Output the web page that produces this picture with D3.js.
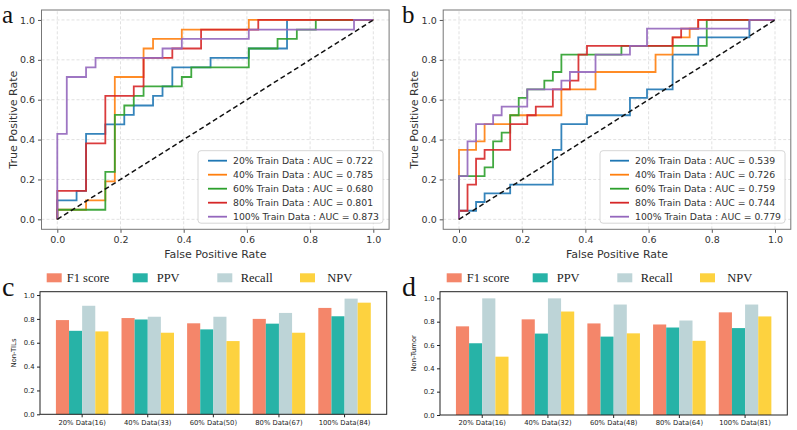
<!DOCTYPE html>
<html>
<head>
<meta charset="utf-8">
<script src="https://cdn.jsdelivr.net/npm/d3@7"></script>
<style>
  body { margin: 0; background: #fff; }
  svg { display: block; }
</style>
</head>
<body>
<script>
// ROC curves, panel a (corner points [fpr, tpr])
const rocA20 = [[0,0],[0,0.095],[0.061,0.095],[0.061,0.143],[0.091,0.143],[0.091,0.429],[0.152,0.429],[0.152,0.476],[0.212,0.476],[0.212,0.524],[0.242,0.524],[0.242,0.571],[0.303,0.571],[0.303,0.619],[0.333,0.619],[0.333,0.667],[0.364,0.667],[0.364,0.762],[0.485,0.762],[0.485,0.81],[0.606,0.81],[0.606,0.857],[0.727,0.857],[0.727,1],[1,1]];
const rocA40 = [[0,0],[0,0.048],[0.091,0.048],[0.091,0.095],[0.152,0.095],[0.152,0.19],[0.182,0.19],[0.182,0.714],[0.273,0.714],[0.273,0.857],[0.303,0.857],[0.303,0.905],[0.394,0.905],[0.394,0.952],[0.606,0.952],[0.606,1],[1,1]];
const rocA60 = [[0,0],[0,0.048],[0.152,0.048],[0.152,0.238],[0.182,0.238],[0.182,0.524],[0.212,0.524],[0.212,0.571],[0.242,0.571],[0.242,0.619],[0.273,0.619],[0.273,0.667],[0.394,0.667],[0.394,0.714],[0.424,0.714],[0.424,0.762],[0.606,0.762],[0.606,0.857],[0.697,0.857],[0.697,0.905],[0.758,0.905],[0.758,0.952],[0.818,0.952],[0.818,1],[1,1]];
const rocA80 = [[0,0],[0,0.143],[0.091,0.143],[0.091,0.381],[0.152,0.381],[0.152,0.619],[0.242,0.619],[0.242,0.667],[0.273,0.667],[0.273,0.81],[0.364,0.81],[0.364,0.857],[0.455,0.857],[0.455,0.952],[0.636,0.952],[0.636,1],[1,1]];
const rocA100 = [[0,0],[0,0.429],[0.03,0.429],[0.03,0.714],[0.091,0.714],[0.091,0.762],[0.121,0.762],[0.121,0.81],[0.333,0.81],[0.333,0.857],[0.394,0.857],[0.394,0.905],[0.606,0.905],[0.606,0.952],[0.939,0.952],[0.939,1],[1,1]];
const aucA = ["0.722", "0.785", "0.680", "0.801", "0.873"];

// ROC curves, panel b
const rocB20 = [[0,0],[0,0.043],[0.054,0.043],[0.054,0.087],[0.081,0.087],[0.081,0.13],[0.162,0.13],[0.162,0.174],[0.297,0.174],[0.297,0.348],[0.324,0.348],[0.324,0.478],[0.405,0.478],[0.405,0.522],[0.541,0.522],[0.541,0.609],[0.595,0.609],[0.595,0.652],[0.676,0.652],[0.676,0.826],[0.757,0.826],[0.757,0.913],[0.919,0.913],[0.919,1],[1,1]];
const rocB40 = [[0,0],[0,0.348],[0.054,0.348],[0.054,0.391],[0.081,0.391],[0.081,0.478],[0.162,0.478],[0.162,0.522],[0.324,0.522],[0.324,0.652],[0.432,0.652],[0.432,0.739],[0.622,0.739],[0.622,0.826],[0.676,0.826],[0.676,0.913],[0.73,0.913],[0.73,0.957],[0.757,0.957],[0.757,1],[1,1]];
const rocB60 = [[0,0],[0,0.217],[0.081,0.217],[0.081,0.261],[0.108,0.261],[0.108,0.391],[0.135,0.391],[0.135,0.435],[0.162,0.435],[0.162,0.522],[0.189,0.522],[0.189,0.609],[0.216,0.609],[0.216,0.652],[0.27,0.652],[0.27,0.696],[0.297,0.696],[0.297,0.739],[0.324,0.739],[0.324,0.826],[0.514,0.826],[0.514,0.87],[0.784,0.87],[0.784,1],[1,1]];
const rocB80 = [[0,0],[0,0.043],[0.027,0.043],[0.027,0.174],[0.054,0.174],[0.054,0.304],[0.081,0.304],[0.081,0.348],[0.162,0.348],[0.162,0.478],[0.216,0.478],[0.216,0.522],[0.243,0.522],[0.243,0.565],[0.297,0.565],[0.297,0.652],[0.351,0.652],[0.351,0.696],[0.378,0.696],[0.378,0.826],[0.405,0.826],[0.405,0.87],[0.676,0.87],[0.676,0.913],[0.703,0.913],[0.703,0.957],[0.757,0.957],[0.757,1],[1,1]];
const rocB100 = [[0,0],[0,0.217],[0.027,0.217],[0.027,0.391],[0.054,0.391],[0.054,0.478],[0.108,0.478],[0.108,0.522],[0.135,0.522],[0.135,0.565],[0.216,0.565],[0.216,0.652],[0.324,0.652],[0.324,0.696],[0.351,0.696],[0.351,0.739],[0.432,0.739],[0.432,0.826],[0.541,0.826],[0.541,0.87],[0.595,0.87],[0.595,0.957],[0.919,0.957],[0.919,1],[1,1]];
const aucB = ["0.539", "0.726", "0.759", "0.744", "0.779"];

const trainPct = ["20%", "40%", "60%", "80%", "100%"];
const rocTicks = [0, 0.2, 0.4, 0.6, 0.8, 1.0];

// bar panels
const metrics = ["F1 score", "PPV", "Recall", "NPV"];
const catsC = ["20% Data(16)", "40% Data(33)", "60% Data(50)", "80% Data(67)", "100% Data(84)"];
const f1C = [0.79, 0.807, 0.763, 0.80, 0.892];
const ppvC = [0.70, 0.795, 0.712, 0.76, 0.822];
const recallC = [0.91, 0.818, 0.818, 0.850, 0.970];
const npvC = [0.695, 0.684, 0.614, 0.684, 0.936];

const catsD = ["20% Data(16)", "40% Data(32)", "60% Data(48)", "80% Data(64)", "100% Data(81)"];
const f1D = [0.76, 0.82, 0.785, 0.776, 0.88];
const ppvD = [0.615, 0.698, 0.672, 0.75, 0.745];
const recallD = [1.0, 1.0, 0.947, 0.81, 0.947];
const npvD = [0.50, 0.887, 0.70, 0.636, 0.845];
const barTicks = [0, 0.2, 0.4, 0.6, 0.8, 1.0];

const rocColors = ["#1f77b4", "#ff7f0e", "#2ca02c", "#d62728", "#9467bd"];
const barColors = ["#f4866a", "#27b3a7", "#bdd4d7", "#fdd23f"];

const W = 797, H = 430;
const sans = "DejaVu Sans, sans-serif";
const serif = "Liberation Serif, Times New Roman, serif";

const svg = d3.select("body").append("svg")
  .attr("width", W).attr("height", H)
  .style("background", "#fff");

// ! ROC panel
function drawRoc(opt) {
  const x = d3.scaleLinear().domain([-0.05, 1.05]).range(opt.xr);
  const y = d3.scaleLinear().domain([-0.05, 1.05]).range([229.3, 10]);
  const g = svg.append("g");

  // grid
  g.selectAll(".gx").data(rocTicks).enter().append("line")
    .attr("x1", d => x(d)).attr("x2", d => x(d))
    .attr("y1", y.range()[0]).attr("y2", y.range()[1])
    .attr("stroke", "#d9d9d9").attr("stroke-width", 0.8)
    .attr("stroke-dasharray", "3,2");
  g.selectAll(".gy").data(rocTicks).enter().append("line")
    .attr("y1", d => y(d)).attr("y2", d => y(d))
    .attr("x1", x.range()[0]).attr("x2", x.range()[1])
    .attr("stroke", "#d9d9d9").attr("stroke-width", 0.8)
    .attr("stroke-dasharray", "3,2");

  // curves
  const line = d3.line().x(d => x(d[0])).y(d => y(d[1]));
  opt.series.forEach((s, i) => {
    g.append("path").datum(s).attr("d", line)
      .attr("fill", "none").attr("stroke", rocColors[i])
      .attr("stroke-width", 1.8).attr("stroke-opacity", 0.9);
  });
  g.append("path").datum([[0, 0], [1, 1]]).attr("d", line)
    .attr("fill", "none").attr("stroke", "#111")
    .attr("stroke-width", 1.5).attr("stroke-dasharray", "5,3");

  // axes
  const xa = g.append("g").attr("transform", `translate(0,${y.range()[0]})`)
    .call(d3.axisBottom(x).tickValues(rocTicks).tickFormat(d3.format(".1f")).tickSize(3.5).tickPadding(3));
  const ya = g.append("g").attr("transform", `translate(${x.range()[0]},0)`)
    .call(d3.axisLeft(y).tickValues(rocTicks).tickFormat(d3.format(".1f")).tickSize(3.5).tickPadding(3));
  [xa, ya].forEach(a => {
    a.select(".domain").remove();
    a.selectAll("line").attr("stroke", "#555");
    a.selectAll("text").attr("fill", "#333").style("font-family", sans).style("font-size", "9.5px");
  });

  g.append("rect")
    .attr("x", x.range()[0]).attr("y", y.range()[1])
    .attr("width", x.range()[1] - x.range()[0])
    .attr("height", y.range()[0] - y.range()[1])
    .attr("fill", "none").attr("stroke", "#777").attr("stroke-width", 1);

  // labels
  g.append("text").text("False Positive Rate")
    .attr("x", (x.range()[0] + x.range()[1]) / 2).attr("y", 258)
    .attr("text-anchor", "middle").attr("fill", "#333")
    .style("font-family", sans).style("font-size", "11px");
  g.append("text").text("True Positive Rate")
    .attr("transform", `translate(${x.range()[0] - 25},${(y.range()[0] + y.range()[1]) / 2}) rotate(-90)`)
    .attr("text-anchor", "middle").attr("fill", "#333")
    .style("font-family", sans).style("font-size", "11px");

  // legend
  const lx = opt.legendX, ly = 150.7;
  const lg = g.append("g");
  lg.append("rect").attr("x", lx).attr("y", ly).attr("width", 185).attr("height", 72.5)
    .attr("rx", 3).attr("fill", "#fff").attr("fill-opacity", 0.85)
    .attr("stroke", "#ccc").attr("stroke-width", 0.8);
  opt.aucs.forEach((a, i) => {
    const yy = ly + 10 + i * 14;
    lg.append("line").attr("x1", lx + 10).attr("x2", lx + 29)
      .attr("y1", yy).attr("y2", yy)
      .attr("stroke", rocColors[i]).attr("stroke-width", 1.8);
    lg.append("text").text(`${trainPct[i]} Train Data : AUC = ${a}`)
      .attr("x", lx + 35).attr("y", yy + 3.4).attr("fill", "#333")
      .style("font-family", sans).style("font-size", "9.3px");
  });

  svg.append("text").text(opt.letter)
    .attr("x", opt.letterX).attr("y", 22.5)
    .style("font-family", serif).style("font-size", "25px").attr("fill", "#111");
}

drawRoc({ xr: [41.5, 389.1], series: [rocA20, rocA40, rocA60, rocA80, rocA100], aucs: aucA, legendX: 198, letter: "a", letterX: 2 });
drawRoc({ xr: [443.2, 790.8], series: [rocB20, rocB40, rocB60, rocB80, rocB100], aucs: aucB, legendX: 600, letter: "b", letterX: 402 });

// ! Bar panel
function drawBars(opt) {
  const x0 = d3.scaleBand().domain(opt.cats).range(opt.xr).paddingInner(0.2).paddingOuter(0.2425);
  const x1 = d3.scaleBand().domain(metrics).range([0, x0.bandwidth()]);
  const y = d3.scaleLinear().domain([0, opt.ymax]).range([opt.bottom, 291.7]);
  const g = svg.append("g");
  const series = [opt.f1, opt.ppv, opt.recall, opt.npv];

  opt.cats.forEach((c, ci) => {
    metrics.forEach((m, mi) => {
      g.append("rect")
        .attr("x", x0(c) + x1(m)).attr("width", x1.bandwidth())
        .attr("y", y(series[mi][ci])).attr("height", y(0) - y(series[mi][ci]))
        .attr("fill", barColors[mi]);
    });
  });

  const xa = g.append("g").attr("transform", `translate(0,${opt.bottom})`)
    .call(d3.axisBottom(x0).tickSize(3).tickPadding(2.5));
  const ya = g.append("g").attr("transform", `translate(${opt.xr[0]},0)`)
    .call(d3.axisLeft(y).tickValues(barTicks).tickFormat(d3.format(".1f")).tickSize(3).tickPadding(2.5));
  [xa, ya].forEach(a => {
    a.select(".domain").remove();
    a.selectAll("line").attr("stroke", "#222");
    a.selectAll("text").attr("fill", "#222").style("font-family", sans).style("font-size", "6.8px");
  });

  g.append("rect")
    .attr("x", opt.xr[0]).attr("y", 291.7)
    .attr("width", opt.xr[1] - opt.xr[0]).attr("height", opt.bottom - 291.7)
    .attr("fill", "none").attr("stroke", "#222").attr("stroke-width", 1);

  g.append("text").text(opt.ylabel)
    .attr("transform", `translate(${opt.xr[0] - 24},${(opt.bottom + 291.7) / 2}) rotate(-90)`)
    .attr("text-anchor", "middle").attr("fill", "#222")
    .style("font-family", sans).style("font-size", "6.8px");

  // legend above the panel
  const legX = [46.7, 132.7, 217.3, 300];
  const legT = [66.7, 156.7, 240.7, 327.3];
  metrics.forEach((m, i) => {
    g.append("rect").attr("x", opt.xr[0] - 40 + legX[i]).attr("y", 273.3)
      .attr("width", 15).attr("height", 9).attr("fill", barColors[i]);
    g.append("text").text(m).attr("x", opt.xr[0] - 40 + legT[i]).attr("y", 282)
      .attr("fill", "#222").style("font-family", serif).style("font-size", "12.5px");
  });

  svg.append("text").text(opt.letter)
    .attr("x", opt.letterX).attr("y", 296)
    .style("font-family", serif).style("font-size", "28px").attr("fill", "#111");
}

drawBars({ xr: [40, 386.7], bottom: 414.3, ymax: 1.028, cats: catsC, f1: f1C, ppv: ppvC, recall: recallC, npv: npvC, ylabel: "Non-TILs", letter: "c", letterX: 2 });
drawBars({ xr: [440, 787.3], bottom: 415, ymax: 1.057, cats: catsD, f1: f1D, ppv: ppvD, recall: recallD, npv: npvD, ylabel: "Non-Tumor", letter: "d", letterX: 402 });
</script>
</body>
</html>
